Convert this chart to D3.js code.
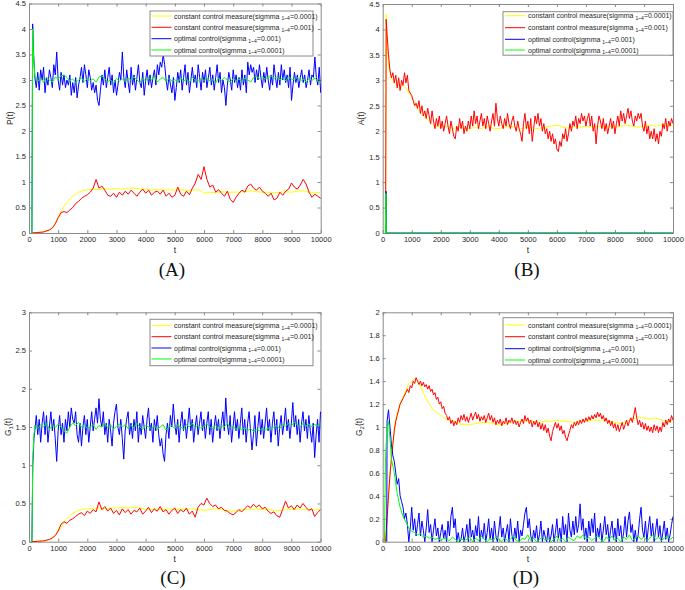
<!DOCTYPE html>
<html><head><meta charset="utf-8">
<script src="https://cdn.jsdelivr.net/npm/d3@7"></script>
<style>body{margin:0;background:#fff}svg{display:block}</style>
</head><body><svg id="c" width="685" height="590"></svg>
<script>
// ---------- tick labels ----------
const xTicks = [0,1000,2000,3000,4000,5000,6000,7000,8000,9000,10000];
const yTicksA = [0,0.5,1,1.5,2,2.5,3,3.5,4,4.5];
const yTicksB = [0,0.5,1,1.5,2,2.5,3,3.5,4,4.5];
const yTicksC = [0,0.5,1,1.5,2,2.5,3];
const yTicksD = [0,0.2,0.4,0.6,0.8,1,1.2,1.4,1.6,1.8,2];

// ---------- legend ----------
const seriesNames = [
  {pre:"constant control measure(sigmma ", sub:"1~4", post:"=0.0001)"},
  {pre:"constant control measure(sigmma ", sub:"1~4", post:"=0.001)"},
  {pre:"optimal control(sigmma ", sub:"1~4", post:"=0.001)"},
  {pre:"optimal control(sigmma ", sub:"1~4", post:"=0.0001)"}
];
const seriesColors = ["#ffff00","#ff0000","#0000ff","#00ff00"];

// ---------- Panel A : P(t) ----------
const pYellow = [[100,0],[300,0.01],[500,0.02],[700,0.06],[800,0.1],[900,0.18],[1000,0.3],[1100,0.42],[1200,0.52],[1300,0.6],[1400,0.67],[1500,0.72],[1600,0.76],[1700,0.8],[1800,0.82],[1900,0.84],[2000,0.85],[2200,0.86],[2400,0.85],[2600,0.87],[2800,0.86],[3000,0.87],[3200,0.86],[3400,0.88],[3600,0.88],[3800,0.86],[4000,0.86],[4200,0.84],[4400,0.85],[4600,0.84],[4800,0.85],[5000,0.84],[5200,0.85],[5400,0.83],[5600,0.84],[5800,0.85],[5900,0.82],[6000,0.78],[6200,0.8],[6400,0.79],[6600,0.81],[6800,0.8],[7000,0.8],[7200,0.8],[7400,0.81],[7600,0.83],[7800,0.81],[8000,0.8],[8200,0.8],[8400,0.79],[8600,0.8],[8800,0.81],[9000,0.8],[9200,0.82],[9400,0.83],[9600,0.8],[9800,0.79],[10000,0.8]];
const pRedHead = [[100,0],[300,0.01],[500,0.02],[700,0.06],[800,0.1],[900,0.18],[1000,0.3]];
const pRed = [0.4,0.42,0.4,0.45,0.5,0.58,0.62,0.68,0.72,0.75,
0.8,0.88,1.05,0.88,0.92,0.84,0.74,0.72,0.78,0.7,
0.8,0.74,0.82,0.76,0.84,0.78,0.72,0.8,0.86,0.78,
0.84,0.74,0.8,0.82,0.76,0.84,0.72,0.78,0.7,0.74,
0.9,0.76,0.72,0.82,0.75,0.88,0.98,1.15,1.05,1.3,
1.05,0.9,0.94,0.8,0.85,0.78,0.72,0.82,0.66,0.6,
0.7,0.78,0.84,0.8,0.92,0.96,0.88,0.84,0.9,0.82,
0.78,0.72,0.78,0.65,0.68,0.8,0.74,0.82,0.86,0.98,
0.9,0.86,0.94,1.05,0.96,0.8,0.7,0.76,0.72,0.68];
const pBlueHead = [[100,0],[125,4.1],[160,3.5]];
const pBlue = [3.05,2.85,3.15,2.8,3.2,3.0,3.25,2.75,3.05,2.9,3.2,3.05,2.85,3.3,3.1,3.55,3.0,2.8,3.15,2.9,
3.1,2.85,3.0,2.9,3.1,2.7,2.95,2.75,3.05,2.65,2.9,3.05,3.25,2.95,3.3,3.1,2.85,3.2,3.05,2.8,
2.95,2.75,2.9,2.6,2.5,2.8,3.1,2.9,3.2,2.85,3.05,3.25,2.9,3.1,2.75,3.0,2.7,2.9,3.15,3.0,
3.55,3.05,2.85,3.2,2.95,2.75,3.25,2.9,3.1,2.8,3.05,3.3,2.95,2.85,3.15,2.7,3.0,3.2,2.9,3.1,
2.85,3.05,3.2,2.9,3.3,3.1,3.35,3.25,3.5,3.3,3.0,2.8,3.1,2.9,2.75,3.05,2.6,2.85,3.15,2.95,
3.2,2.8,3.05,3.3,2.9,3.15,2.75,3.0,3.25,2.95,3.1,2.85,3.3,3.05,2.8,3.15,2.95,3.2,2.85,3.05,
3.25,2.9,3.1,2.8,3.05,3.3,2.95,3.15,2.75,3.0,2.85,2.5,2.9,3.15,3.0,2.8,3.2,2.95,3.1,2.85,
3.05,2.8,3.2,2.9,3.1,2.75,3.35,3.1,3.3,3.15,3.25,2.95,3.2,3.0,3.3,3.05,2.85,3.15,2.95,3.25,
3.0,2.8,3.1,2.9,3.3,3.05,2.85,3.15,2.9,3.3,3.0,3.2,2.95,3.1,2.85,3.25,2.6,2.9,3.15,2.95,
3.1,2.85,3.05,3.2,2.95,3.1,2.85,3.0,3.2,2.9,3.1,3.05,3.45,3.05,2.9,3.25,2.75];
const pGreenHead = [[100,0],[125,4.0],[160,3.4]];
const pGreen = [3.08,2.98,3.03,2.95,3.05,3.0,2.96,3.06,3.02,3.08,
3.1,3.05,2.98,3.02,2.95,3.0,3.04,2.97,3.03,2.99,
3.02,2.96,3.06,3.08,3.02,2.97,3.0,2.94,3.03,2.98,
3.02,2.97,3.04,2.99,3.06,3.0,2.95,3.03,2.98,3.05,
3.0,3.07,2.96,3.02,3.05,2.97,3.03,2.98,3.01,2.95,
3.04,2.98,3.02,2.96,3.05,3.0,2.97,3.03,2.99,3.04,
2.98,3.02,2.95,3.03,2.99,3.05,3.0,2.96,3.03,2.98,
3.02,2.97,3.04,3.0,2.96,3.05,3.07,3.03,3.06,3.02,
3.05,3.08,3.03,3.06,3.0,3.04,2.98,3.07,3.02,3.0,
3.05,2.98,3.02,2.96,3.03,2.99,3.04,2.97,2.95];

// ---------- Panel B : A(t) ----------
const aYellow = [[100,0],[120,4.3],[150,3.8],[200,3.3],[300,3.05],[400,2.95],[500,2.92],[600,2.88],[700,2.9],[800,2.85],[900,2.75],[1000,2.68],[1100,2.55],[1200,2.45],[1300,2.35],[1400,2.3],[1500,2.25],[1600,2.2],[1700,2.15],[1800,2.1],[2000,2.08],[2200,2.1],[2400,2.05],[2600,2.08],[2800,2.06],[3000,2.05],[3200,2.08],[3400,2.05],[3600,2.1],[3800,2.06],[4000,2.05],[4200,2.08],[4400,2.1],[4600,2.07],[4800,2.05],[5000,2.08],[5200,2.06],[5400,2.05],[5600,2.08],[5800,2.1],[6000,2.12],[6200,2.08],[6400,2.06],[6600,2.1],[6800,2.08],[7000,2.1],[7200,2.08],[7400,2.1],[7600,2.08],[7800,2.1],[8000,2.08],[8200,2.1],[8400,2.12],[8600,2.1],[8800,2.08],[9000,2.1],[9200,2.12],[9400,2.1],[9600,2.12],[9800,2.1],[10000,2.12]];
const aRedHead = [[100,0],[120,4.2],[150,3.9],[200,3.5]];
const aRed = [3.2,3.05,3.15,2.95,3.1,2.85,3.05,2.8,3.0,2.9,
3.15,2.95,3.1,2.8,2.75,2.7,2.6,2.5,2.55,2.45,
2.6,2.35,2.5,2.3,2.4,2.25,2.45,2.3,2.15,2.4,
2.2,2.05,2.25,2.1,2.3,2.05,2.2,2.0,2.15,2.3,
2.1,1.95,2.2,2.05,1.9,1.85,2.1,2.0,2.25,2.05,
2.2,1.95,2.1,2.0,2.2,2.05,2.3,2.1,2.4,2.15,
2.3,2.05,2.2,2.35,2.1,2.25,2.05,2.3,2.15,2.0,
2.2,2.35,2.1,2.55,2.25,2.1,2.3,2.15,2.05,2.25,
2.1,2.35,2.15,2.05,2.2,2.3,2.1,2.0,2.2,2.05,
1.95,1.8,2.15,2.35,2.05,2.2,1.95,2.25,1.8,2.05,
2.3,2.15,2.35,2.1,2.25,2.0,2.15,1.95,2.05,1.85,
2.0,1.8,1.95,1.75,1.85,1.65,1.6,1.8,1.7,1.95,
1.85,2.05,1.8,1.95,2.15,2.0,2.2,2.1,2.3,2.05,
2.25,2.15,2.35,2.2,2.3,2.1,2.25,2.35,2.1,2.3,
2.0,2.15,1.75,2.1,2.3,2.2,2.05,2.25,2.0,2.15,
1.95,2.1,2.25,2.05,2.2,1.95,2.15,2.3,2.1,2.4,
2.2,2.35,2.15,2.3,2.45,2.25,2.4,2.2,2.1,2.3,
2.2,2.35,2.25,2.35,2.1,2.0,2.2,1.95,2.1,1.85,
2.0,1.85,2.05,1.8,1.95,1.75,2.0,1.9,2.15,2.05,
2.25,2.0,2.2,2.1,2.25,2.15];
const aBlue = [[100,0],[115,0.82],[130,0],[10000,0]];
const aGreen = [[90,0],[110,0.78],[125,0],[10000,0]];

// ---------- Panel C : G1(t) ----------
const g1Yellow = [[100,0],[300,0.005],[500,0.01],[700,0.03],[800,0.05],[900,0.08],[1000,0.13],[1100,0.19],[1200,0.25],[1300,0.3],[1400,0.34],[1500,0.37],[1600,0.39],[1700,0.41],[1800,0.42],[2000,0.43],[2200,0.44],[2400,0.44],[2600,0.43],[2800,0.44],[3000,0.44],[3200,0.45],[3400,0.44],[3600,0.45],[3800,0.44],[4000,0.43],[4200,0.42],[4400,0.43],[4600,0.42],[4800,0.43],[5000,0.42],[5200,0.43],[5400,0.42],[5600,0.43],[5800,0.42],[6000,0.41],[6200,0.42],[6400,0.43],[6600,0.42],[6800,0.41],[7000,0.4],[7200,0.41],[7400,0.42],[7600,0.42],[7800,0.43],[8000,0.42],[8200,0.42],[8400,0.41],[8600,0.41],[8800,0.42],[9000,0.42],[9200,0.43],[9400,0.42],[9600,0.42],[9800,0.42],[10000,0.42]];
const g1RedHead = [[100,0],[300,0.005],[500,0.01],[700,0.03],[800,0.05],[900,0.08],[1000,0.14]];
const g1Red = [0.23,0.26,0.24,0.28,0.3,0.33,0.36,0.38,0.34,0.4,
0.37,0.42,0.39,0.52,0.42,0.46,0.4,0.44,0.37,0.41,
0.35,0.43,0.38,0.42,0.36,0.41,0.39,0.44,0.36,0.4,
0.45,0.38,0.43,0.4,0.46,0.39,0.42,0.36,0.41,0.44,
0.37,0.42,0.39,0.44,0.36,0.4,0.32,0.45,0.5,0.48,
0.57,0.5,0.46,0.48,0.43,0.45,0.41,0.4,0.37,0.35,
0.38,0.42,0.39,0.43,0.47,0.44,0.49,0.45,0.48,0.43,
0.45,0.4,0.37,0.39,0.34,0.32,0.42,0.53,0.44,0.47,
0.42,0.48,0.44,0.5,0.45,0.41,0.43,0.33,0.38,0.42];
const g1BlueHead = [[100,0],[130,1.0],[170,1.35]];
const g1Blue = [1.45,1.65,1.4,1.6,1.3,1.55,1.7,1.4,1.65,1.3,
1.5,1.7,1.45,1.6,1.35,1.05,1.45,1.65,1.4,1.55,
1.3,1.6,1.45,1.7,1.5,1.75,1.6,1.55,1.7,1.4,
1.3,1.55,1.25,1.5,1.65,1.4,1.6,1.3,1.5,1.7,
1.45,1.6,1.75,1.55,1.87,1.6,1.5,1.7,1.4,1.55,
1.3,1.6,1.45,1.25,1.55,1.7,1.8,1.5,1.4,1.6,
1.35,1.08,1.45,1.6,1.7,1.4,1.55,1.35,1.6,1.45,
1.7,1.3,1.55,1.4,1.65,1.5,1.35,1.6,1.75,1.45,
1.55,1.3,1.6,1.45,1.65,1.4,1.25,1.35,1.15,1.05,
1.4,1.55,1.35,1.65,1.5,1.8,1.55,1.4,1.6,1.3,
1.55,1.7,1.45,1.6,1.35,1.55,1.75,1.45,1.6,1.3,
1.5,1.65,1.4,1.55,1.7,1.45,1.6,1.35,1.55,1.7,
1.4,1.6,1.3,1.5,1.65,1.45,1.6,1.35,1.55,1.7,
1.45,1.88,1.55,1.4,1.65,1.3,1.5,1.7,1.45,1.6,
1.35,1.55,1.75,1.4,1.6,1.3,1.55,1.7,1.45,1.2,
1.4,1.65,1.25,1.5,1.7,1.4,1.6,1.35,1.55,1.75,
1.45,1.6,1.3,1.55,1.7,1.4,1.6,1.25,1.5,1.65,
1.4,1.55,1.75,1.45,1.6,1.35,1.55,1.82,1.5,1.65,
1.4,1.6,1.3,1.55,1.7,1.45,1.6,1.35,1.65,1.45,
1.3,1.55,1.1,1.4,1.6,1.3,1.7];
const g1GreenHead = [[100,0],[130,1.1],[170,1.4]];
const g1Green = [1.52,1.48,1.53,1.5,1.55,1.47,1.52,1.49,1.54,1.5,
1.45,1.42,1.5,1.55,1.52,1.56,1.5,1.53,1.48,1.5,
1.53,1.47,1.52,1.5,1.55,1.49,1.53,1.47,1.51,1.54,
1.5,1.53,1.48,1.52,1.49,1.55,1.5,1.47,1.52,1.5,
1.48,1.52,1.47,1.5,1.53,1.46,1.5,1.52,1.48,1.53,
1.5,1.47,1.53,1.5,1.55,1.49,1.52,1.48,1.51,1.54,
1.5,1.48,1.53,1.47,1.52,1.5,1.55,1.49,1.51,1.47,
1.5,1.46,1.49,1.45,1.48,1.44,1.47,1.45,1.48,1.46,
1.49,1.47,1.5,1.52,1.48,1.53,1.51,1.55,1.52,1.56,
1.53,1.5,1.55,1.51,1.54,1.5,1.53,1.52,1.55];

// ---------- Panel D : G2(t) ----------
const g2Yellow = [[100,0],[150,0.2],[200,0.4],[250,0.6],[300,0.75],[350,0.85],[400,0.98],[450,1.07],[500,1.12],[600,1.2],[700,1.26],[800,1.32],[900,1.38],[1000,1.4],[1100,1.42],[1200,1.41],[1300,1.36],[1400,1.3],[1500,1.25],[1600,1.2],[1700,1.16],[1800,1.14],[1900,1.12],[2000,1.1],[2100,1.08],[2200,1.07],[2400,1.05],[2600,1.03],[2800,1.02],[3000,1.02],[3200,1.03],[3400,1.04],[3600,1.04],[3800,1.03],[4000,1.02],[4200,1.03],[4400,1.04],[4600,1.05],[4800,1.05],[5000,1.06],[5200,1.05],[5400,1.04],[5600,1.05],[5800,1.05],[6000,1.06],[6200,1.05],[6400,1.05],[6600,1.04],[6800,1.05],[7000,1.05],[7200,1.06],[7400,1.06],[7600,1.06],[7800,1.05],[8000,1.04],[8200,1.03],[8400,1.05],[8600,1.07],[8800,1.08],[9000,1.08],[9200,1.07],[9400,1.08],[9600,1.06],[9800,1.05],[10000,1.06]];
const g2RedHead = [[100,0],[150,0.2],[200,0.4],[250,0.58],[300,0.72],[350,0.85],[400,0.97],[450,1.05],[500,1.1],[600,1.2],[700,1.25],[800,1.3]];
const g2Red = [1.33,1.3,1.36,1.34,1.4,1.38,1.43,1.4,1.37,1.4,
1.36,1.39,1.35,1.37,1.33,1.36,1.31,1.33,1.28,1.3,
1.24,1.26,1.2,1.22,1.16,1.18,1.12,1.1,1.06,1.09,
1.03,1.06,1.01,1.05,1.02,1.08,1.04,1.1,1.06,1.11,
1.05,1.09,1.04,1.08,1.12,1.06,1.1,1.13,1.07,1.11,
1.05,1.09,1.06,1.1,1.04,1.08,1.12,1.06,1.1,1.04,
1.08,1.02,1.06,1.03,1.07,1.01,1.05,1.03,1.08,1.02,
1.06,1.04,1.08,1.03,1.06,1.02,1.05,1.0,1.04,1.07,
1.03,1.1,1.05,1.08,1.03,1.06,1.0,1.05,1.02,1.06,
1.0,1.04,0.98,1.03,0.97,1.02,0.95,0.99,0.92,0.88,
0.96,1.0,1.04,0.99,1.03,0.97,1.01,0.94,0.97,0.91,
0.88,0.93,0.97,1.02,0.99,1.04,1.01,1.05,1.02,1.06,
1.03,1.07,1.04,1.08,1.05,1.09,1.06,1.1,1.07,1.11,
1.08,1.13,1.09,1.12,1.07,1.1,1.05,1.08,1.03,1.06,
1.01,1.05,0.99,1.03,0.97,1.02,0.96,1.0,1.04,0.98,
1.02,1.06,1.01,1.05,1.08,1.04,1.1,1.17,1.08,1.02,
1.06,1.0,1.04,0.98,1.03,0.97,1.01,0.96,1.0,0.95,
1.02,0.97,1.01,0.95,1.0,0.96,1.04,1.0,1.06,1.02,
1.07,1.04,1.1,1.06];
const g2BlueHead = [[140,0],[150,1.05],[200,1.15]];
const g2Blue = [1.0,0.85,0.75,0.7,0.6,0.5,0.55,0.4,0.35,0.3,
0.2,0.25,0.15,0.0,0.12,0.3,0.1,0.2,0.05,0.15,
0.25,0.05,0.18,0.1,0.0,0.12,0.28,0.08,0.15,0.0,
0.1,0.2,0.05,0.12,0.0,0.08,0.15,0.03,0.1,0.0,
0.18,0.05,0.22,0.3,0.12,0.2,0.0,0.08,0.0,0.02,
0.12,0.0,0.06,0.15,0.0,0.2,0.04,0.1,0.0,0.14,
0.05,0.22,0.0,0.1,0.03,0.16,0.0,0.08,0.2,0.02,
0.12,0.0,0.18,0.05,0.0,0.1,0.22,0.04,0.12,0.0,
0.08,0.15,0.0,0.2,0.06,0.0,0.12,0.03,0.18,0.0,
0.1,0.05,0.15,0.25,0.3,0.12,0.2,0.05,0.0,0.1,
0.03,0.14,0.0,0.06,0.18,0.0,0.1,0.04,0.0,0.12,
0.0,0.05,0.15,0.0,0.08,0.2,0.03,0.12,0.0,0.22,
0.06,0.15,0.0,0.25,0.1,0.04,0.18,0.06,0.22,0.08,
0.15,0.33,0.1,0.2,0.02,0.12,0.0,0.18,0.05,0.2,
0.08,0.25,0.0,0.12,0.04,0.16,0.0,0.1,0.22,0.06,
0.15,0.0,0.1,0.18,0.02,0.12,0.0,0.2,0.05,0.14,
0.0,0.08,0.22,0.04,0.18,0.26,0.08,0.15,0.0,0.1,
0.0,0.06,0.2,0.3,0.1,0.04,0.18,0.0,0.12,0.22,
0.05,0.16,0.0,0.1,0.2,0.04,0.14,0.0,0.08,0.18,
0.02,0.12,0.0,0.06,0.15,0.22];
const g2GreenHead = [[60,0],[100,0.75],[150,0.98],[200,1.05],[250,0.9]];
const g2Green = [0.72,0.6,0.42,0.3,0.22,0.17,0.12,0.09,0.08,0.06,
0.07,0.04,0.05,0.03,0.04,0.02,0.03,0.01,0.03,0.02,
0.01,0.04,0.02,0.0,0.03,0.01,0.02,0.04,0.0,0.03,
0.01,0.05,0.02,0.0,0.03,0.01,0.04,0.02,0.0,0.03,
0.01,0.02,0.05,0.01,0.0,0.03,0.02,0.06,0.01,0.03,
0.0,0.02,0.04,0.01,0.03,0.0,0.02,0.05,0.01,0.03,
0.0,0.04,0.02,0.01,0.05,0.03,0.06,0.02,0.04,0.01,
0.03,0.05,0.02,0.0,0.04,0.02,0.05,0.01,0.03,0.0,
0.04,0.02,0.06,0.01,0.03,0.05,0.02,0.04,0.01,0.03,
0.06,0.02,0.04,0.01,0.03,0.05,0.02,0.04];

// ---------- helpers ----------
function sampled(head, start, step, vals){
  return head.concat(vals.map((v,i)=>[start+i*step, v]));
}

const panels = [
  {cap:"(A)", ylab:"P", ysub:null, ymax:4.5, yTicks:yTicksA,
   box:{l:29,r:320.7,t:3.5,b:233}, ylx:13, tY:253, capX:172, capY:276,
   leg:{x:150,y:11,w:163,h:45,lx0:151.5,lx1:171.5,tx:174,rows:[16,27.3,38.7,50]},
   data:[pYellow, sampled(pRedHead,1100,100,pRed), sampled(pBlueHead,200,50,pBlue), sampled(pGreenHead,200,100,pGreen)]},
  {cap:"(B)", ylab:"A", ysub:null, ymax:4.5, yTicks:yTicksB,
   box:{l:382.7,r:673,t:4,b:233}, ylx:364, tY:253, capX:527, capY:276,
   leg:{x:503,y:11.7,w:170,h:43.5,lx0:505,lx1:525,tx:528,rows:[15.7,27.7,39.3,50]},
   data:[aYellow, sampled(aRedHead,250,50,aRed), aBlue, aGreen]},
  {cap:"(C)", ylab:"G", ysub:"1", ymax:3, yTicks:yTicksC,
   box:{l:29,r:320.5,t:312.3,b:541.7}, ylx:11, tY:562, capX:173, capY:584,
   leg:{x:150,y:319.3,w:163,h:46.4,lx0:151.5,lx1:171.5,tx:174,rows:[325.7,336.7,348,359]},
   data:[g1Yellow, sampled(g1RedHead,1100,100,g1Red), sampled(g1BlueHead,200,50,g1Blue), sampled(g1GreenHead,200,100,g1Green)]},
  {cap:"(D)", ylab:"G", ysub:"2", ymax:2, yTicks:yTicksD,
   box:{l:382.7,r:673,t:312.3,b:541.7}, ylx:362, tY:562, capX:526, capY:584,
   leg:{x:503,y:317.7,w:170,h:47.3,lx0:505,lx1:525,tx:528,rows:[325,336.7,348.7,360]},
   data:[g2Yellow, sampled(g2RedHead,850,50,g2Red), sampled(g2BlueHead,250,50,g2Blue), sampled(g2GreenHead,300,100,g2Green)]}
];

const svg = d3.select("#c");
const FONT = "'Liberation Sans', Arial, Helvetica, sans-serif";
const AX = "#262626", FRAME = "#8a8a8a";

panels.forEach((P,pi)=>{
  const B = P.box;
  const x = d3.scaleLinear().domain([0,10000]).range([B.l,B.r]);
  const y = d3.scaleLinear().domain([0,P.ymax]).range([B.b,B.t]);
  const g = svg.append("g");
  const fmt = d => String(+d.toFixed(1));

  const style = sel => {
    sel.selectAll("path.domain").attr("stroke",FRAME).attr("stroke-width",1);
    sel.selectAll(".tick line").attr("stroke",FRAME).attr("stroke-width",1);
    sel.selectAll("text").attr("fill",AX).attr("font-family",FONT).attr("font-size","7.5px");
  };
  g.append("g").attr("transform",`translate(0,${B.b})`)
    .call(d3.axisBottom(x).tickValues(xTicks).tickSize(-3).tickSizeOuter(0).tickPadding(4).tickFormat(d3.format("d"))).call(style);
  g.append("g").attr("transform",`translate(0,${B.t})`)
    .call(d3.axisTop(x).tickValues(xTicks).tickSize(-3).tickSizeOuter(0).tickFormat("")).call(style);
  g.append("g").attr("transform",`translate(${B.l},0)`)
    .call(d3.axisLeft(y).tickValues(P.yTicks).tickSize(-3).tickSizeOuter(0).tickPadding(3).tickFormat(fmt)).call(style);
  g.append("g").attr("transform",`translate(${B.r},0)`)
    .call(d3.axisRight(y).tickValues(P.yTicks).tickSize(-3).tickSizeOuter(0).tickFormat("")).call(style);

  const cid = "clip"+pi;
  svg.append("clipPath").attr("id",cid).append("rect")
    .attr("x",B.l).attr("y",B.t-1).attr("width",B.r-B.l+0.5).attr("height",B.b-B.t+1.5);
  const line = d3.line().x(d=>x(d[0])).y(d=>y(d[1]));
  P.data.forEach((s,si)=>{
    g.append("path").datum(s).attr("clip-path",`url(#${cid})`)
      .attr("fill","none").attr("stroke",seriesColors[si]).attr("stroke-width",1)
      .attr("stroke-linejoin","round").attr("d",line);
  });

  // x label
  g.append("text").attr("x",(B.l+B.r)/2).attr("y",P.tY).attr("text-anchor","middle")
    .attr("font-family",FONT).attr("font-size","8.5px").attr("fill",AX).text("t");
  // y label
  const yl = g.append("text").attr("transform",`translate(${P.ylx},${(B.t+B.b)/2}) rotate(-90)`)
    .attr("text-anchor","middle").attr("font-family",FONT).attr("font-size","8.5px").attr("fill",AX);
  yl.append("tspan").text(P.ylab);
  if(P.ysub){ yl.append("tspan").attr("font-size","6px").attr("dy",2).text(P.ysub);
              yl.append("tspan").attr("dy",-2).text("(t)"); }
  else yl.append("tspan").text("(t)");

  // caption
  g.append("text").attr("x",P.capX).attr("y",P.capY).attr("text-anchor","middle")
    .attr("font-family","'Liberation Serif', 'Times New Roman', serif").attr("font-size","19px").attr("fill","#111").text(P.cap);

  // legend
  const L = P.leg;
  const lg = g.append("g");
  lg.append("rect").attr("x",L.x).attr("y",L.y).attr("width",L.w).attr("height",L.h)
    .attr("fill","#fff").attr("stroke",FRAME).attr("stroke-width",1);
  seriesNames.forEach((nm,i)=>{
    const ry = L.rows[i];
    lg.append("line").attr("x1",L.lx0).attr("x2",L.lx1).attr("y1",ry).attr("y2",ry)
      .attr("stroke",seriesColors[i]).attr("stroke-width",1);
    const t = lg.append("text").attr("x",L.tx).attr("y",ry+2.5)
      .attr("font-family",FONT).attr("font-size","7px").attr("fill",AX);
    t.append("tspan").text(nm.pre);
    t.append("tspan").attr("font-size","5px").attr("dy",1.8).text(nm.sub);
    t.append("tspan").attr("dy",-1.8).text(nm.post);
  });
});
</script>
</body></html>
